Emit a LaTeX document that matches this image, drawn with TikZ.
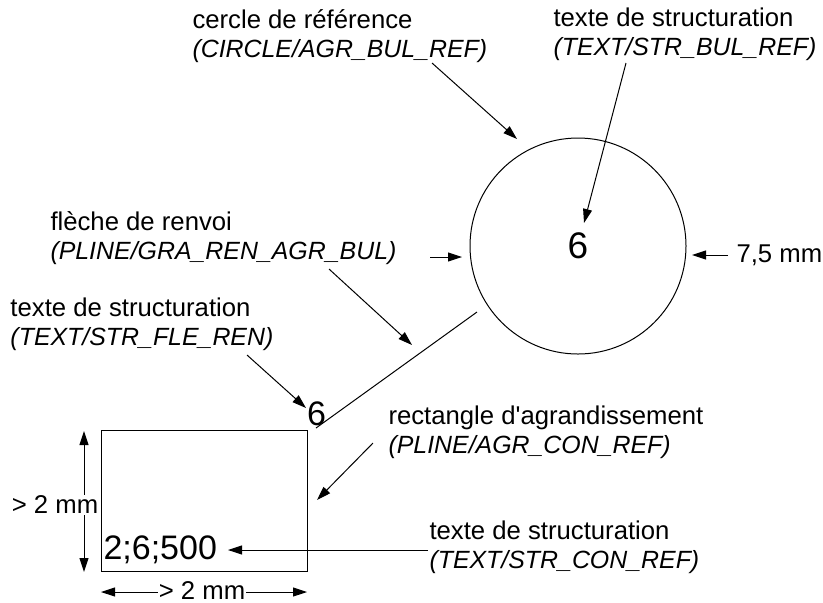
\documentclass[tikz,border=0pt]{standalone}
\usepackage{fontspec}
\setmainfont{Liberation Sans}
\usepackage{tikz}
\usetikzlibrary{arrows.meta}
\usetikzlibrary{calc}

\newcommand{\codetxt}[1]{{\fontsize{12.45}{14.5}\selectfont\itshape #1}}

\begin{document}
\begin{tikzpicture}[x=0.5pt, y=-0.5pt, line width=0.5pt,
        label_style/.style={anchor=west, align=left, inner sep=0pt, font=\fontsize{12.85}{14.5}\selectfont},
        number_style/.style={inner sep=0pt, font=\fontsize{17}{20}\selectfont},
        cut_style/.style={fill=white, inner sep=0.6pt, font=\fontsize{12.85}{14.5}\selectfont},
        arrow_style/.style={draw=black, line width=0.5pt, -{Triangle[length=7pt,width=4.5pt]}},
        dim_style/.style={draw=black, line width=0.5pt, {Triangle[length=7pt,width=4.5pt]}-{Triangle[length=7pt,width=4.5pt]}},
        line_style/.style={draw=black, line width=0.5pt}]

        \useasboundingbox (0,0) rectangle (823,602);

        % shapes
        \node [circle, draw, minimum size=108pt, inner sep=0pt, font=\fontsize{18.5}{20}\selectfont] (bul_ref) at (578,246) {6};

        \node [draw, minimum width=103pt, minimum height=70.5pt, inner sep=0pt] (con_ref) at (204,500.5) {};

        \node [number_style] (fle_ren) at (316.5,413.5) {6};

        \node [number_style, anchor=west] (con_txt) at (103,549.5) {2;6;500};

        % labels
        \node [label_style] (lbl_bul_ref) at (192,36) {cercle de référence\\\codetxt{(CIRCLE/AGR\_BUL\_REF)}};

        \node [label_style] (lbl_str_bul) at (553,34) {texte de structuration\\\codetxt{(TEXT/STR\_BUL\_REF)}};

        \node [label_style] (lbl_gra_ren) at (50,238) {flèche de renvoi\\\codetxt{(PLINE/GRA\_REN\_AGR\_BUL)}};

        \node [label_style] (lbl_str_fle) at (10,324) {texte de structuration\\\codetxt{(TEXT/STR\_FLE\_REN)}};

        \node [label_style] (lbl_con_ref) at (388,432) {rectangle d\textquotesingle agrandissement\\\codetxt{(PLINE/AGR\_CON\_REF)}};

        \node [label_style] (lbl_str_con) at (429,547) {texte de structuration\\\codetxt{(TEXT/STR\_CON\_REF)}};

        \node [label_style] (lbl_diam) at (736,255) {7,5 mm};

        % arrow ends
        \coordinate (s1) at (432,63);   \coordinate (e1) at (517,139);
        \coordinate (s2) at (626,63);   \coordinate (e2) at (584,223);
        \coordinate (s3) at (430,257);  \coordinate (e3) at (462,257);
        \coordinate (s4) at (329,269);  \coordinate (e4) at (412,345);
        \coordinate (s5) at (728,255);  \coordinate (e5) at (692,255);
        \coordinate (s6) at (247,355);  \coordinate (e6) at (306,408);
        \coordinate (s7) at (373,443);  \coordinate (e7) at (317,500);
        \coordinate (s8) at (428,550);  \coordinate (e8) at (228,550);
        \coordinate (r1) at (477,312);  \coordinate (r2) at (316,428);

        \draw [arrow_style] (s1) -- (e1);

        \draw [arrow_style] (s2) -- (e2);

        \draw [arrow_style] (s3) -- (e3);

        \draw [arrow_style] (s4) -- (e4);

        \draw [arrow_style] (s5) -- (e5);

        \draw [arrow_style] (s6) -- (e6);

        \draw [arrow_style] (s7) -- (e7);

        \draw [arrow_style] (s8) -- (e8);

        \draw [line_style] (r1) -- (r2);

        % dimensions
        \coordinate (dv1) at (84,431);  \coordinate (dv2) at (84,572);
        \coordinate (dh1) at (101,592); \coordinate (dh2) at (307,592);

        \draw [dim_style] (dv1) -- (dv2);

        \node [cut_style] (lbl_dv) at (55,505) {> 2 mm};

        \draw [dim_style] (dh1) -- (dh2);

        \node [cut_style, anchor=base] (lbl_dh) at (202,599.5) {> 2 mm};

\end{tikzpicture}
\end{document}
